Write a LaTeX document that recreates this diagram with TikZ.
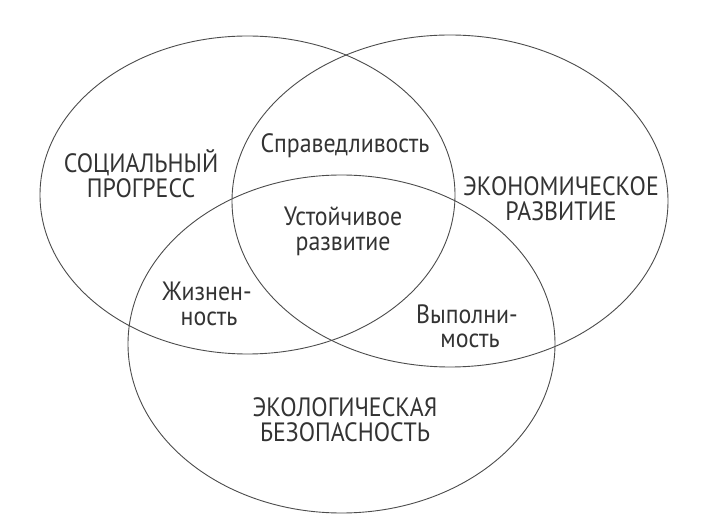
\documentclass[tikz,border=0pt]{standalone}
\usepackage{fontspec}
\setmainfont[FakeStretch=0.9]{PT Sans}
\begin{document}
\begin{tikzpicture}[x=1pt,y=-1pt,
  ring/.style={draw=black!70, line width=0.9pt},
  lbl/.style={text=black!80, anchor=base, inner sep=0pt, font=\fontsize{26.5}{25}\selectfont}]
\useasboundingbox[fill=white] (0,0) rectangle (707,521);
\draw[ring] (247.5,195) ellipse [x radius=207.5, y radius=159];
\draw[ring] (450,201) ellipse [x radius=218, y radius=166];
\draw[ring] (341.5,344) ellipse [x radius=213.5, y radius=169];
\node[lbl] (soc1) at (141,173) {СОЦИАЛЬНЫЙ};
\node[lbl] (soc2) at (141,198) {ПРОГРЕСС};
\node[lbl] (spr) at (345,153) {Справедливость};
\node[lbl] (eco1) at (561,196) {ЭКОНОМИЧЕСКОЕ};
\node[lbl] (eco2) at (561,221) {РАЗВИТИЕ};
\node[lbl] (ust1) at (343,226) {Устойчивое};
\node[lbl] (ust2) at (343,251) {развитие};
\node[lbl] (zh1) at (207,301) {Жизнен-};
\node[lbl] (zh2) at (209,326) {ность};
\node[lbl] (vy1) at (467,324) {Выполни-};
\node[lbl] (vy2) at (470,348) {мость};
\node[lbl] (ekl1) at (345,416) {ЭКОЛОГИЧЕСКАЯ};
\node[lbl] (ekl2) at (345,441) {БЕЗОПАСНОСТЬ};
\end{tikzpicture}
\end{document}
